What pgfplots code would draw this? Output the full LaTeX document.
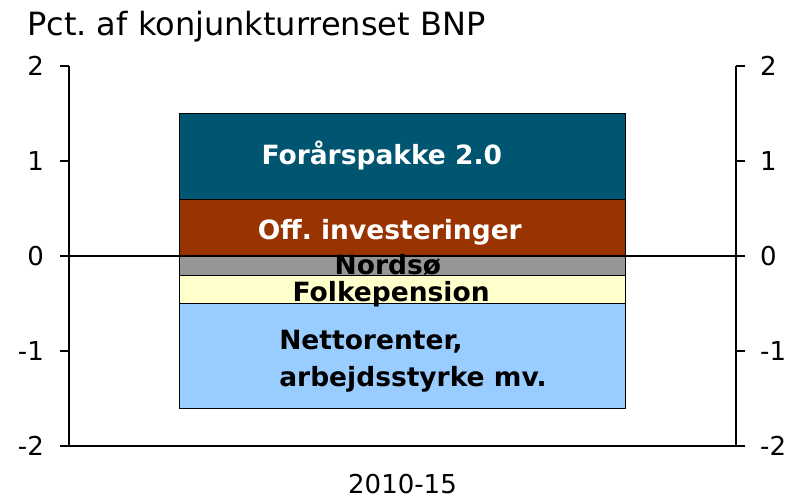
\documentclass[border=0pt]{standalone}
\usepackage{fontspec}
\setmainfont{DejaVu Sans}
\usepackage{pgfplots}
\pgfplotsset{compat=1.18}
\definecolor{cForaar}{HTML}{005670}
\definecolor{cOff}{HTML}{993300}
\definecolor{cNord}{HTML}{969696}
\definecolor{cFolk}{HTML}{FFFFCC}
\definecolor{cNetto}{HTML}{99CCFF}
\frenchspacing
\begin{document}
\begin{tikzpicture}
\useasboundingbox (0pt,0pt) rectangle (798pt,502pt);
\pgfplotsset{common/.style={
  width=667pt, height=380pt, scale only axis,
  xmin=-0.5, xmax=0.5, ymin=-2, ymax=2,
  ytick={-2,-1,0,1,2},
  at={(69pt,56pt)}, anchor=south west,
  tick align=outside, major tick length=9pt,
  axis line style={line width=1.1pt, black},
  tick style={line width=1.1pt, black},
  /pgf/number format/assume math mode=true,
  ticklabel style={font=\fontsize{26}{30}\selectfont},
  clip=false,
}}
\begin{axis}[common, ybar stacked, bar width=446pt,
  axis x line*=bottom, axis y line*=left,
  xtick={0}, xticklabels={2010-15}, xtick style={draw=none},
  xticklabel style={inner sep=0pt, anchor=north, yshift=-19pt},
  extra x ticks={-0.5,0.5}, extra x tick labels={},
  extra x tick style={major tick length=10pt, tick style={draw=black, line width=1.1pt}},
  yticklabel style={inner sep=0pt, anchor=east, xshift=-16pt},
]
\addplot[fill=cNord, draw=black, line width=0.8pt] coordinates {(0,-0.2)};
\addplot[fill=cFolk, draw=black, line width=0.8pt] coordinates {(0,-0.3)};
\addplot[fill=cNetto, draw=black, line width=0.8pt] coordinates {(0,-1.1)};
\end{axis}
\begin{axis}[common, ybar stacked, bar width=446pt,
  axis x line=none, axis y line*=right,
  xtick=\empty,
  yticklabel style={inner sep=0pt, anchor=west, xshift=15pt},
]
\addplot[fill=cOff, draw=black, line width=0.8pt] coordinates {(0,0.6)};
\addplot[fill=cForaar, draw=black, line width=0.8pt] coordinates {(0,0.9)};
\end{axis}
\begin{axis}[common, axis lines=none, xtick=\empty, ytick=\empty]
\draw[line width=1.1pt, black] (axis cs:-0.5,0) -- (axis cs:0.5,0);
\node[font=\fontsize{26.5}{30}\selectfont\bfseries, text=white] at (axis cs:-0.031,1.063) {Forårspakke 2.0};
\node[font=\fontsize{26.5}{30}\selectfont\bfseries, text=white] at (axis cs:-0.019,0.25) {Off. investeringer};
\node[font=\fontsize{26.5}{30}\selectfont\bfseries, text=black] at (axis cs:-0.022,-0.1) {Nordsø};
\node[font=\fontsize{26.5}{30}\selectfont\bfseries, text=black] at (axis cs:-0.017,-0.405) {Folkepension};
\node[font=\fontsize{26.5}{37}\selectfont\bfseries, text=black, align=left, anchor=west, inner sep=0pt] at (axis cs:-0.185,-1.11) {Nettorenter,\\arbejdsstyrke mv.};
\end{axis}
\node[anchor=base west, inner sep=0pt, font=\fontsize{32}{36}\selectfont] at (27pt,466pt) {Pct. af konjunkturrenset BNP};
\end{tikzpicture}
\end{document}
